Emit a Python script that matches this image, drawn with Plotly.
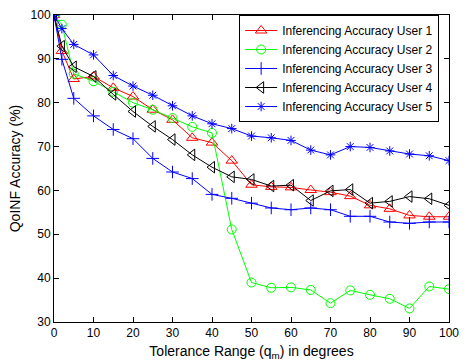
import plotly.graph_objects as go

x = [0, 2, 5, 10, 15, 20, 25, 30, 35, 40, 45, 50, 55, 60, 65, 70, 75, 80, 85, 90, 95, 100]
user1 = [100, 91.8, 85.4, 86.0, 83.4, 81.4, 78.4, 76.1, 72.0, 70.9, 66.8, 61.3, 60.8, 60.7, 60.1, 59.6, 58.7, 56.6, 55.8, 54.3, 54.0, 54.0]
user2 = [100, 97.8, 86.6, 84.9, 82.5, 80.0, 78.4, 76.5, 74.5, 73.1, 51.1, 39.0, 37.8, 37.9, 37.3, 34.3, 37.2, 36.2, 35.3, 33.1, 38.1, 37.5]
user3 = [100, 89.9, 81.0, 77.0, 73.9, 71.8, 67.3, 64.2, 62.7, 59.1, 58.2, 57.1, 56.0, 55.6, 56.0, 55.6, 54.1, 54.1, 52.8, 52.5, 52.8, 52.8]
user4 = [100, 92.9, 88.2, 86.0, 81.9, 78.0, 74.6, 71.6, 68.1, 65.3, 63.1, 62.5, 61.0, 61.2, 57.7, 59.9, 60.2, 57.1, 57.5, 58.6, 58.1, 56.6]
user5 = [100, 96.9, 93.3, 90.9, 86.2, 83.8, 81.7, 79.3, 77.0, 75.2, 74.1, 72.4, 72.0, 71.4, 69.2, 68.1, 70.0, 69.8, 69.0, 68.3, 67.9, 66.8]

names = ["Inferencing Accuracy User 1", "Inferencing Accuracy User 2", "Inferencing Accuracy User 3",
         "Inferencing Accuracy User 4", "Inferencing Accuracy User 5"]
series = [user1, user2, user3, user4, user5]
colors = ["#ff0000", "#00ff00", "#0000ff", "#000000", "#0000ff"]
symbols = ["triangle-up-open", "circle-open", "cross-thin-open", "triangle-left-open", "asterisk-open"]
sizes = [10, 9, 9, 10, 8]

fig = go.Figure()
for n, s, c, sym, sz in zip(names, series, colors, symbols, sizes):
    fig.add_trace(go.Scatter(x=x, y=s, name=n, mode="lines+markers",
                             line=dict(color=c, width=1),
                             marker=dict(symbol=sym, size=sz, color=c, line=dict(color=c, width=1))))

axis_common = dict(showline=True, linecolor="black", linewidth=1, mirror="ticks",
                   ticks="inside", ticklen=5, tickcolor="black", showgrid=False, zeroline=False,
                   tickfont=dict(size=12, color="black"), ticklabeloverflow="allow")
fig.update_xaxes(range=[0, 100], dtick=10, tick0=0,
                 title=dict(text="Tolerance Range (q<sub>m</sub>) in degrees", font=dict(size=14, color="black"), standoff=6),
                 **axis_common)
fig.update_yaxes(range=[30, 100], dtick=10, tick0=30,
                 title=dict(text="QoINF Accuracy (%)", font=dict(size=14, color="black"), standoff=6),
                 **axis_common)
fig.update_layout(
    width=467, height=364,
    margin=dict(l=54, r=8, t=10, b=41),
    paper_bgcolor="white", plot_bgcolor="white",
    font=dict(family="Liberation Sans, Arial, sans-serif", color="black"),
    legend=dict(x=0.975, y=1.0, xanchor="right", yanchor="top",
                bgcolor="white", bordercolor="black", borderwidth=1,
                font=dict(size=12), tracegroupgap=0, itemwidth=32),
)
fig.write_html("out.html")
